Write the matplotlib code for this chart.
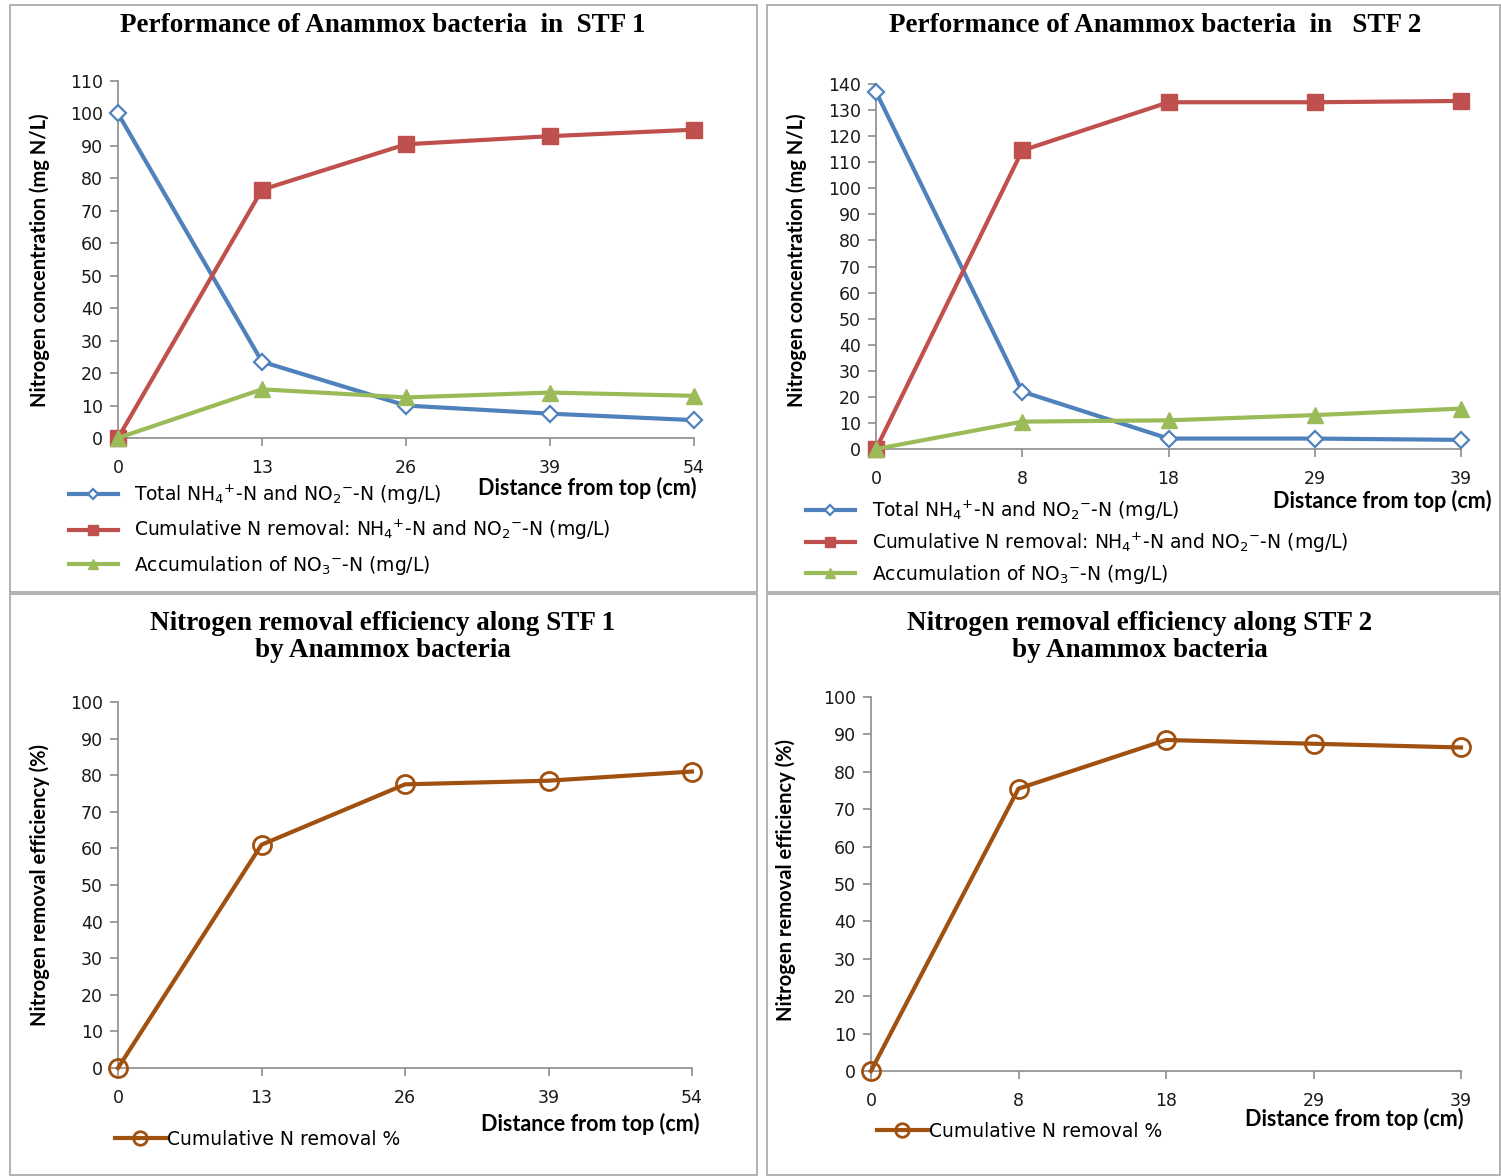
import matplotlib
matplotlib.use("Agg")
import matplotlib.pyplot as plt
from matplotlib.patches import Rectangle

# ---------------- data ----------------
stf1_labels = ["0", "13", "26", "39", "54"]
stf1_total = [100, 23.5, 10, 7.5, 5.5]
stf1_removal = [0, 76.5, 90.5, 93, 95]
stf1_no3 = [0, 15, 12.5, 14, 13]
stf1_eff = [0, 61, 77.5, 78.5, 81]

stf2_labels = ["0", "8", "18", "29", "39"]
stf2_total = [137, 22, 4, 4, 3.5]
stf2_removal = [0, 114.5, 133, 133, 133.5]
stf2_no3 = [0, 10.5, 11, 13, 15.5]
stf2_eff = [0, 75.5, 88.5, 87.5, 86.5]

BLUE = "#4F81BD"
RED = "#C0504D"
GREEN = "#9BBB59"
BROWN = "#A0500F"
AXC = "#8C8C8C"

W, H = 1501, 1176
fig = plt.figure(figsize=(W / 100, H / 100), dpi=100)
fig.patch.set_facecolor("white")

SERIF = "Liberation Serif"
SANS = "DejaVu Sans"
LBL = "Lato"
plt.rcParams["mathtext.fontset"] = "dejavusans"
TITLE_FS = 19.5
LBL_FS = 14.5
XLBL_FS = 15.5
LEG_FS = 13.5


def px_axes(l, r, t, b):
    return fig.add_axes([l / W, 1 - b / H, (r - l) / W, (b - t) / H])


def style(ax, labels, ymax, ystep):
    ax.set_xlim(0, len(labels) - 1)
    ax.set_ylim(0, ymax)
    ax.set_xticks(range(len(labels)))
    ax.set_xticklabels(labels)
    ax.set_yticks(range(0, ymax + 1, ystep))
    for s in ["top", "right"]:
        ax.spines[s].set_visible(False)
    for s in ["left", "bottom"]:
        ax.spines[s].set_color(AXC)
        ax.spines[s].set_linewidth(1.2)
    ax.tick_params(axis="both", colors=AXC, length=6, width=1.2, direction="out",
                   labelcolor="#1a1a1a", labelsize=12.5)
    ax.tick_params(axis="y", pad=5)
    ax.tick_params(axis="x", pad=9)
    for t in ax.get_xticklabels() + ax.get_yticklabels():
        t.set_fontfamily(SANS)
    for sp in ax.spines.values():
        sp.set_zorder(0.5)


# panel borders
for (x0, y0, x1, y1) in [(10, 5, 757, 592), (767, 5, 1500, 592),
                         (10, 594, 757, 1175), (767, 594, 1500, 1175)]:
    fig.add_artist(Rectangle((x0 / W, 1 - y1 / H), (x1 - x0) / W, (y1 - y0) / H,
                             transform=fig.transFigure, fill=False,
                             edgecolor="#A6A6A6", linewidth=1.2))

lab_total = r"Total NH$_4$$^{+}$-N and NO$_2$$^{-}$-N (mg/L)"
lab_rem = r"Cumulative N removal: NH$_4$$^{+}$-N and NO$_2$$^{-}$-N (mg/L)"
lab_no3 = r"Accumulation of NO$_3$$^{-}$-N (mg/L)"


def top_panel(ax, labels, total, rem, no3, ymax, ystep):
    x = list(range(len(labels)))
    ax.plot(x, total, color=BLUE, lw=3, marker="D", ms=8, mfc="white", mec=BLUE,
            mew=1.6, label=lab_total, clip_on=False, zorder=3)
    ax.plot(x, rem, color=RED, lw=3, marker="s", ms=11, mfc=RED, mec=RED,
            label=lab_rem, clip_on=False, zorder=3)
    ax.plot(x, no3, color=GREEN, lw=3, marker="^", ms=11, mfc=GREEN, mec=GREEN,
            label=lab_no3, clip_on=False, zorder=3)
    style(ax, labels, ymax, ystep)


def bot_panel(ax, labels, eff):
    x = list(range(len(labels)))
    ax.plot(x, eff, color=BROWN, lw=3, marker="o", ms=13, mfc="none", mec=BROWN,
            mew=2, label="Cumulative N removal %", clip_on=False, zorder=3)
    style(ax, labels, 100, 10)


def top_legend(ax, x, y, spacing):
    leg = ax.legend(loc="upper left", bbox_to_anchor=(x / W, 1 - y / H),
                    bbox_transform=fig.transFigure, frameon=False,
                    handlelength=2.6, labelspacing=spacing, handletextpad=0.9,
                    markerscale=0.7, prop={"family": SANS, "size": LEG_FS})
    return leg


# ---- panel 1
ax1 = px_axes(118, 694, 81, 438)
top_panel(ax1, stf1_labels, stf1_total, stf1_removal, stf1_no3, 110, 10)
fig.text(383 / W, 1 - 25 / H, "Performance of Anammox bacteria  in  STF 1", ha="center",
         va="center", fontfamily=SERIF, fontweight="bold", fontsize=TITLE_FS)
fig.text(40 / W, 1 - 260 / H, "Nitrogen concentration (mg N/L)", rotation=90, ha="center",
         va="center", fontfamily=LBL, fontweight="bold", fontsize=LBL_FS)
fig.text(587 / W, 1 - 488 / H, "Distance from top (cm)", ha="center", va="center",
         fontfamily=LBL, fontweight="bold", fontsize=XLBL_FS)
top_legend(ax1, 52, 466, 0.6)

# ---- panel 2
ax2 = px_axes(876, 1461, 84, 449)
top_panel(ax2, stf2_labels, stf2_total, stf2_removal, stf2_no3, 140, 10)
fig.text(1155 / W, 1 - 25 / H, "Performance of Anammox bacteria  in   STF 2", ha="center",
         va="center", fontfamily=SERIF, fontweight="bold", fontsize=TITLE_FS)
fig.text(797 / W, 1 - 260 / H, "Nitrogen concentration (mg N/L)", rotation=90, ha="center",
         va="center", fontfamily=LBL, fontweight="bold", fontsize=LBL_FS)
fig.text(1382 / W, 1 - 501 / H, "Distance from top (cm)", ha="center", va="center",
         fontfamily=LBL, fontweight="bold", fontsize=XLBL_FS)
top_legend(ax2, 789, 482, 0.42)

# ---- panel 3
ax3 = px_axes(118, 692, 702, 1068)
bot_panel(ax3, stf1_labels, stf1_eff)
fig.text(383 / W, 1 - 637 / H, "Nitrogen removal efficiency along STF 1\nby Anammox bacteria",
         ha="center", va="center", fontfamily=SERIF, fontweight="bold", fontsize=TITLE_FS,
         linespacing=1.15)
fig.text(40 / W, 1 - 885 / H, "Nitrogen removal efficiency (%)", rotation=90, ha="center",
         va="center", fontfamily=LBL, fontweight="bold", fontsize=LBL_FS)
fig.text(590 / W, 1 - 1124 / H, "Distance from top (cm)", ha="center", va="center",
         fontfamily=LBL, fontweight="bold", fontsize=XLBL_FS)
ax3.legend(loc="upper left", bbox_to_anchor=(98 / W, 1 - 1113 / H),
           bbox_transform=fig.transFigure, frameon=False,
           handlelength=2.7, handletextpad=0.1, markerscale=0.75,
           prop={"family": SANS, "size": LEG_FS})

# ---- panel 4
ax4 = px_axes(871, 1461, 697, 1071)
bot_panel(ax4, stf2_labels, stf2_eff)
fig.text(1140 / W, 1 - 637 / H, "Nitrogen removal efficiency along STF 2\nby Anammox bacteria",
         ha="center", va="center", fontfamily=SERIF, fontweight="bold", fontsize=TITLE_FS,
         linespacing=1.15)
fig.text(786 / W, 1 - 880 / H, "Nitrogen removal efficiency (%)", rotation=90, ha="center",
         va="center", fontfamily=LBL, fontweight="bold", fontsize=LBL_FS)
fig.text(1354 / W, 1 - 1119 / H, "Distance from top (cm)", ha="center", va="center",
         fontfamily=LBL, fontweight="bold", fontsize=XLBL_FS)
ax4.legend(loc="upper left", bbox_to_anchor=(860 / W, 1 - 1105 / H),
           bbox_transform=fig.transFigure, frameon=False,
           handlelength=2.7, handletextpad=0.1, markerscale=0.75,
           prop={"family": SANS, "size": LEG_FS})

fig.savefig("out.png", dpi=100, facecolor="white")
